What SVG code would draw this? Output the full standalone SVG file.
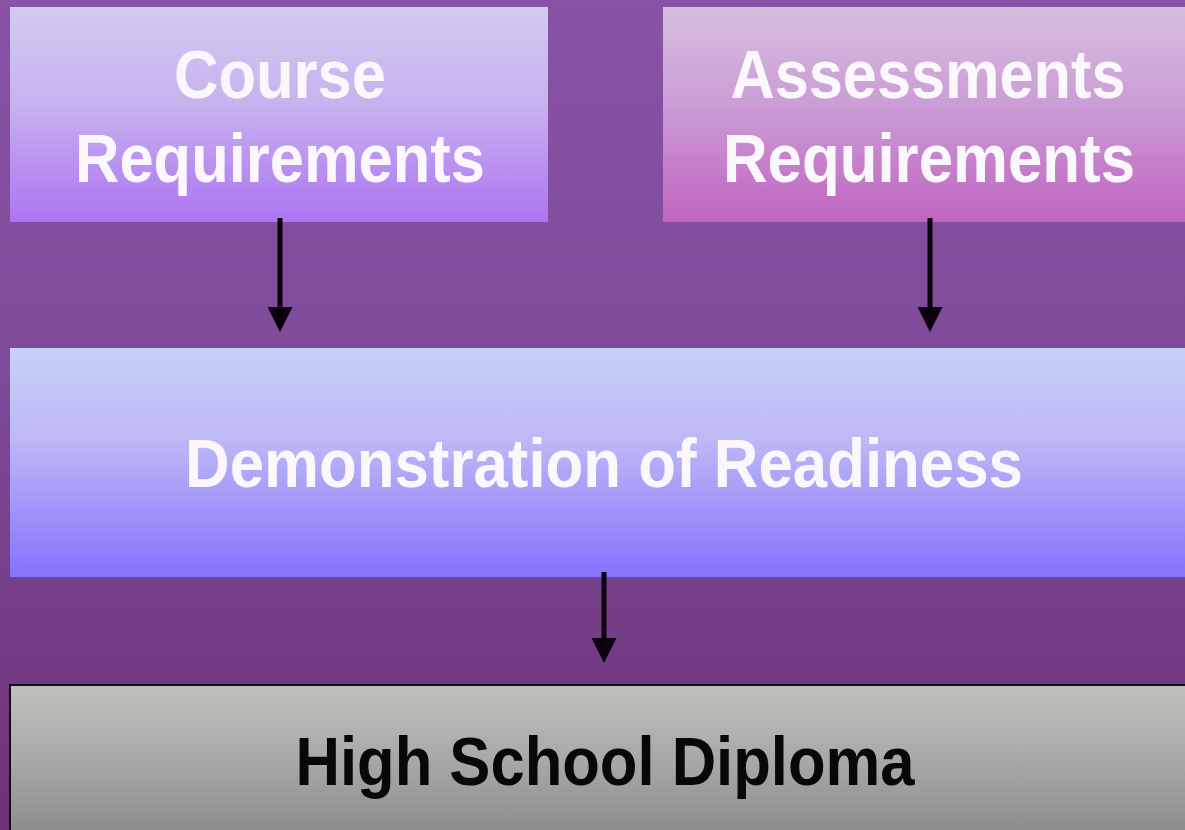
<svg xmlns="http://www.w3.org/2000/svg" width="1185" height="830" viewBox="0 0 1185 830">
  <defs>
    <linearGradient id="bg" x1="0" y1="0" x2="0" y2="1">
      <stop offset="0" stop-color="#8853a6"/>
      <stop offset="0.45" stop-color="#7e4a99"/>
      <stop offset="1" stop-color="#6c3276"/>
    </linearGradient>
    <linearGradient id="gCourse" x1="0" y1="0" x2="0" y2="1">
      <stop offset="0" stop-color="#d2caf1"/>
      <stop offset="0.45" stop-color="#c7b2ee"/>
      <stop offset="1" stop-color="#ad74f2"/>
    </linearGradient>
    <linearGradient id="gAssess" x1="0" y1="0" x2="0" y2="1">
      <stop offset="0" stop-color="#d6bede"/>
      <stop offset="0.45" stop-color="#cb9dd6"/>
      <stop offset="1" stop-color="#c064c0"/>
    </linearGradient>
    <linearGradient id="gDemo" x1="0" y1="0" x2="0" y2="1">
      <stop offset="0" stop-color="#c6d2f6"/>
      <stop offset="0.4" stop-color="#bdb8f6"/>
      <stop offset="1" stop-color="#8472fc"/>
    </linearGradient>
    <linearGradient id="gDip" x1="0" y1="0" x2="0" y2="1">
      <stop offset="0" stop-color="#c0c0bc"/>
      <stop offset="0.5" stop-color="#a8a8a8"/>
      <stop offset="1" stop-color="#8c8c8c"/>
    </linearGradient>
    <marker id="ah" viewBox="0 0 10 10" refX="0" refY="5" markerUnits="userSpaceOnUse" markerWidth="25" markerHeight="25" orient="auto">
      <path d="M0,0 L10,5 L0,10 Z" fill="#0a0010"/>
    </marker>
    <style>
      .lbl { font-family: "Liberation Sans", Arial, sans-serif; font-weight: bold; font-size: 69px; text-anchor: middle; }
      .w { fill: #fbf8fd; }
      .k { fill: #080808; }
      .conn { stroke: #0a0010; stroke-width: 5; fill: none; marker-end: url(#ah); }
    </style>
  </defs>
  <rect x="0" y="0" width="1185" height="830" fill="url(#bg)"/>

  <g id="course">
    <rect x="10" y="7" width="538" height="215" fill="url(#gCourse)"/>
    <text class="lbl w" x="280" y="98" textLength="212" lengthAdjust="spacingAndGlyphs">Course</text>
    <text class="lbl w" x="280" y="182" textLength="410" lengthAdjust="spacingAndGlyphs">Requirements</text>
  </g>

  <g id="assessments">
    <rect x="663" y="7" width="530" height="215" fill="url(#gAssess)"/>
    <text class="lbl w" x="928" y="98" textLength="395" lengthAdjust="spacingAndGlyphs">Assessments</text>
    <text class="lbl w" x="929" y="182" textLength="412" lengthAdjust="spacingAndGlyphs">Requirements</text>
  </g>

  <g id="demonstration">
    <rect x="10" y="348" width="1185" height="229" fill="url(#gDemo)"/>
    <text class="lbl w" x="604" y="487" textLength="838" lengthAdjust="spacingAndGlyphs">Demonstration of Readiness</text>
  </g>

  <g id="diploma">
    <rect x="10" y="685" width="1185" height="150" fill="url(#gDip)" stroke="#111" stroke-width="2"/>
    <text class="lbl k" x="605" y="785" textLength="619" lengthAdjust="spacingAndGlyphs">High School Diploma</text>
  </g>

  <g id="connectors">
    <line class="conn" x1="280" y1="218" x2="280" y2="307"/>
    <line class="conn" x1="930" y1="218" x2="930" y2="307"/>
    <line class="conn" x1="604" y1="572" x2="604" y2="638"/>
  </g>
</svg>
